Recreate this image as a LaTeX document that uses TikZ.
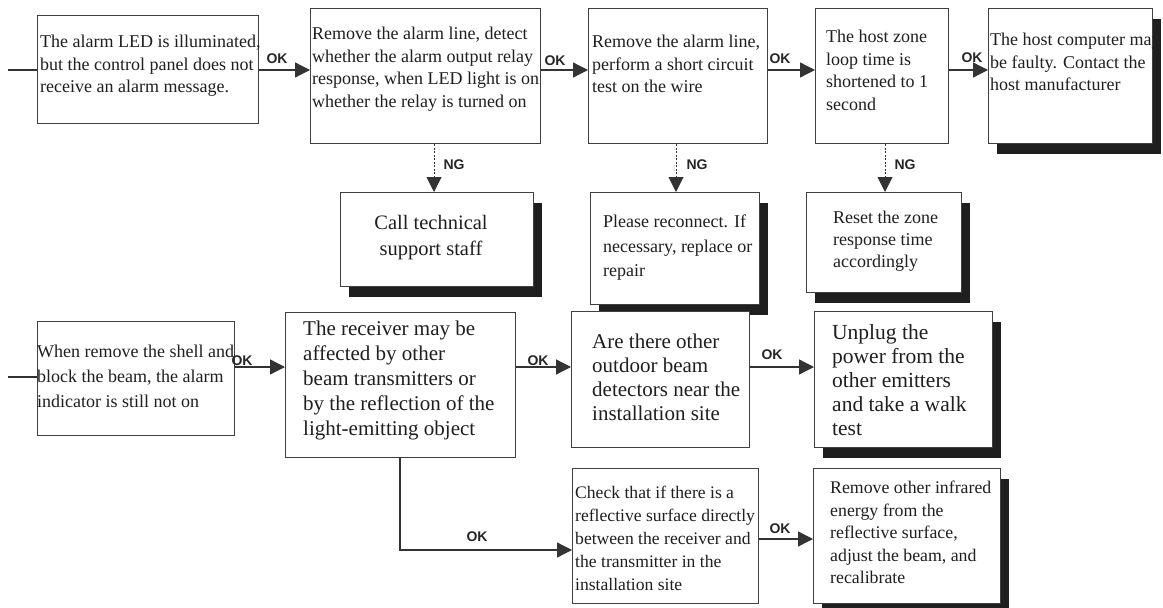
\documentclass[tikz,border=0pt]{standalone}
\usepackage{fontspec}
\setmainfont{Liberation Serif}
\newfontfamily\labfont{Liberation Sans}
\usetikzlibrary{arrows.meta,shadows}
\tikzset{
  box/.style={draw=black!75, line width=1.3pt, fill=white, inner sep=0pt, anchor=north west},
  sbox/.style={box, drop shadow={shadow xshift=8pt, shadow yshift=-10pt, opacity=1, fill=black!88}},
  txt/.style={anchor=north west, inner sep=0pt, align=left, text=black!88},
  tA/.style={txt, font=\fontsize{18}{22.5}\selectfont},
  tB/.style={txt, font=\fontsize{21}{25}\selectfont},
  lab/.style={font=\labfont\bfseries\fontsize{14}{14}\selectfont, inner sep=0pt, text=black!85},
  arr/.style={draw=black!80, line width=1.3pt, -{Triangle[length=15pt,width=15pt]}},
  plain/.style={draw=black!80, line width=1.3pt},
  ngarr/.style={draw=black!80, line width=1pt, dash pattern=on 2pt off 1.5pt, -{Triangle[length=15pt,width=15pt]}}
}
\begin{document}
\begin{tikzpicture}[x=1pt, y=-1pt]
\useasboundingbox[fill=white] (0,0) rectangle (1163,608);
% ---------- top row ----------
\node[box, minimum width=221pt, minimum height=108pt] (a1) at (37,15) {};
\node[tA] (a1t) at (40,35) {The alarm LED is illuminated,\\but the control panel does not\\receive an alarm message.};
\node[box, minimum width=230pt, minimum height=135pt] (a2) at (310,8) {};
\node[tA] (a2t) at (312,27) {Remove the alarm line, detect\\whether the alarm output relay\\response, when LED light is on\\whether the relay is turned on};
\node[box, minimum width=179pt, minimum height=135pt] (a3) at (588,8) {};
\node[tA] (a3t) at (592,35) {Remove the alarm line,\\perform a short circuit\\test on the wire};
\node[box, minimum width=133pt, minimum height=135pt] (a4) at (815,8) {};
\node[tA] (a4t) at (826,30) {The host zone\\loop time is\\shortened to 1\\second};
\node[sbox, minimum width=164pt, minimum height=135pt] (a5) at (988,8) {};
\node[tA] (a5t) at (990,33) {The host computer may\\be faulty. Contact the\\host manufacturer};
% ---------- NG row ----------
\node[sbox, minimum width=193pt, minimum height=94pt] (b1) at (340,192) {};
\node[txt, align=center, anchor=north, font=\fontsize{20.5}{26}\selectfont] (b1t) at (431,215) {Call technical\\support staff};
\node[sbox, minimum width=169pt, minimum height=112pt] (b2) at (590,192) {};
\node[tA, font=\fontsize{18}{24.5}\selectfont] (b2t) at (603,215) {Please reconnect. If\\necessary, replace or\\repair};
\node[sbox, minimum width=155pt, minimum height=100pt] (b3) at (806,192) {};
\node[tA, font=\fontsize{18}{22}\selectfont] (b3t) at (833,211) {Reset the zone\\response time\\accordingly};
% ---------- lower rows ----------
\node[box, minimum width=197pt, minimum height=114pt] (c1) at (37,321) {};
\node[tA, font=\fontsize{18}{25}\selectfont] (c1t) at (37,345) {When remove the shell and\\block the beam, the alarm\\indicator is still not on};
\node[box, minimum width=230pt, minimum height=145pt] (c2) at (285,312) {};
\node[tB] (c2t) at (303,321) {The receiver may be\\affected by other\\beam transmitters or\\by the reflection of the\\light-emitting object};
\node[box, minimum width=178pt, minimum height=136pt] (c3) at (571,311) {};
\node[tB, font=\fontsize{21}{24}\selectfont] (c3t) at (592,334) {Are there other\\outdoor beam\\detectors near the\\installation site};
\node[sbox, minimum width=178pt, minimum height=136pt] (c4) at (814,311) {};
\node[tB, font=\fontsize{21.5}{24}\selectfont] (c4t) at (832,324) {Unplug the\\power from the\\other emitters\\and take a walk\\test};
\node[box, minimum width=186pt, minimum height=135pt] (c5) at (572,468) {};
\node[tA, font=\fontsize{17.6}{23}\selectfont] (c5t) at (575,486) {Check that if there is a\\reflective surface directly\\between the receiver and\\the transmitter in the\\installation site};
\node[sbox, minimum width=187pt, minimum height=135pt] (c6) at (813,468) {};
\node[tA, font=\fontsize{17.8}{22.5}\selectfont] (c6t) at (830,481) {Remove other infrared\\energy from the\\reflective surface,\\adjust the beam, and\\recalibrate};
% ---------- connectors ----------
\coordinate (rA) at (0,70);
\coordinate (inA) at (8,70);
\coordinate (rC) at (0,367);
\coordinate (inC) at (8,377);
\coordinate (bend) at (400,550);
\coordinate (rD) at (0,539);
\draw[plain] (inA) -- (a1.west |- inA);
\draw[arr] (a1.east |- rA) -- (a2.west |- rA);
\draw[arr] (a2.east |- rA) -- (a3.west |- rA);
\draw[arr] (a3.east |- rA) -- (a4.west |- rA);
\draw[arr] (a4.east |- rA) -- (a5.west |- rA);
\coordinate (ngA) at (434,0);
\coordinate (ngB) at (676,0);
\coordinate (ngC) at (885,0);
\draw[ngarr] (a2.south -| ngA) -- (b1.north -| ngA);
\draw[ngarr] (a3.south -| ngB) -- (b2.north -| ngB);
\draw[ngarr] (a4.south -| ngC) -- (b3.north -| ngC);
\draw[plain] (inC) -- (c1.west |- inC);
\draw[arr] (c1.east |- rC) -- (c2.west |- rC);
\draw[arr] (c2.east |- rC) -- (c3.west |- rC);
\draw[arr] (c3.east |- rC) -- (c4.west |- rC);
\draw[arr] (c2.south -| bend) -- (bend) -- (bend -| c5.west);
\draw[arr] (c5.east |- rD) -- (c6.west |- rD);
% ---------- labels ----------
\node[lab] (l1) at (277,59) {OK};
\node[lab] (l2) at (555,61) {OK};
\node[lab] (l3) at (780,59) {OK};
\node[lab] (l4) at (972,58) {OK};
\node[lab] (n1) at (454,165) {NG};
\node[lab] (n2) at (697,165) {NG};
\node[lab] (n3) at (905,165) {NG};
\node[lab] (l5) at (242,361) {OK};
\node[lab] (l6) at (538,361) {OK};
\node[lab] (l7) at (772,355) {OK};
\node[lab] (l8) at (477,537) {OK};
\node[lab] (l9) at (780,529) {OK};
\end{tikzpicture}
\end{document}
